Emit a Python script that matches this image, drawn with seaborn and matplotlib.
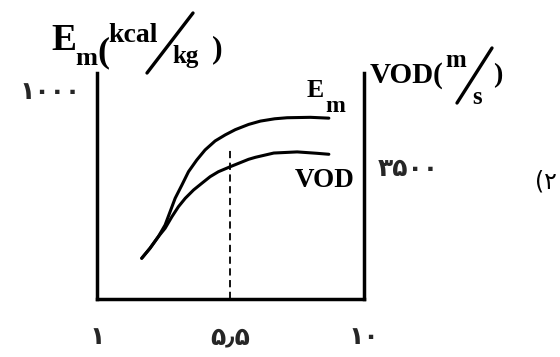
import pandas as pd
import seaborn as sns
import matplotlib.pyplot as plt
from matplotlib.lines import Line2D

# values
em_x = [2.51, 2.79, 3.07, 3.30, 3.47, 3.64, 3.87, 4.09, 4.37, 4.65, 4.99,
        5.33, 5.67, 6.12, 6.52, 7.00, 7.42, 8.21, 8.83]
em_y = [195, 243, 298, 354, 418, 482, 546, 609, 665, 713, 756,
        785, 810, 835, 851, 862, 867, 869, 865]
vod_x = [2.51, 2.79, 3.07, 3.30, 3.53, 3.75, 3.98, 4.26, 4.54, 4.82, 5.10,
         5.56, 6.12, 6.35, 6.97, 7.76, 8.43, 8.83]
vod_y = [1079, 1344, 1652, 1875, 2182, 2447, 2670, 2890, 3068, 3243, 3375,
         3527, 3704, 3757, 3870, 3900, 3863, 3837]
guide_x = 5.5
guide_top = 722

x_ticks = [1, 5.5, 10]
x_labels = ["۱", "۵٫۵", "۱۰"]
em_ticks = [1000]
em_labels = ["۱۰۰۰"]
vod_ticks = [3500]
vod_labels = ["۳۵۰۰"]

em_df = pd.DataFrame({"x": em_x, "Em": em_y})
vod_df = pd.DataFrame({"x": vod_x, "VOD": vod_y})

sns.set_theme(style="white")
plt.rcParams["font.family"] = ["DejaVu Sans"]

W, H = 560, 357
fig = plt.figure(figsize=(W / 100, H / 100), dpi=100)
fig.patch.set_facecolor("white")

def fx(x):
    return x / W

def fy(y):
    return 1 - y / H

ax = fig.add_axes([fx(97), fy(299), (363.5 - 97) / W, (299 - 73) / H])
ax2 = ax.twinx()

sns.lineplot(data=em_df, x="x", y="Em", ax=ax, color="black", lw=2.2, sort=True)
sns.lineplot(data=vod_df, x="x", y="VOD", ax=ax2, color="black", lw=2.2, sort=True)
ax.plot([guide_x, guide_x], [0, guide_top], color="black", lw=1.3, ls=(0, (4, 2.5)))

ax.set_xlim(1, 10)
ax.set_ylim(0, 1081)
ax2.set_ylim(0, 5992)
ax.set_xlabel("")
ax.set_ylabel("")
ax2.set_ylabel("")
ax.grid(False)
ax2.grid(False)

for a in (ax, ax2):
    a.set_facecolor("none")
    for s in a.spines.values():
        s.set_visible(False)
ax.spines["left"].set_visible(True)
ax.spines["bottom"].set_visible(True)
ax2.spines["right"].set_visible(True)
for s in (ax.spines["left"], ax.spines["bottom"], ax2.spines["right"]):
    s.set_linewidth(2.5)
    s.set_color("black")

tick_font = dict(family="DejaVu Sans", weight="bold", size=18)
ax.set_xticks(x_ticks)
ax.set_xticklabels(x_labels, **tick_font)
ax.set_yticks(em_ticks)
ax.set_yticklabels(em_labels, **tick_font)
ax2.set_yticks(vod_ticks)
ax2.set_yticklabels(vod_labels, **tick_font)
ax.tick_params(axis="x", length=0, pad=19)
ax.tick_params(axis="y", length=0, pad=12)
ax2.tick_params(axis="y", length=0, pad=10)

serif = dict(family="Liberation Serif", weight="bold", color="black", va="baseline", ha="left")

# left axis title: Em(kcal/kg)
fig.text(fx(51), fy(50), "E", size=27, **serif)
fig.text(fx(75), fy(65), "m", size=19, **serif)
fig.text(fx(97), fy(61), "(", size=26, **serif)
fig.text(fx(108), fy(42), "kcal", size=20, **serif)
fig.text(fx(172), fy(63), "kg", size=18, **serif)
fig.text(fx(212), fy(57), ")", size=23, **serif)
fig.add_artist(Line2D([fx(147), fx(193)], [fy(73), fy(13)], color="black", lw=2.4))

# right axis title: VOD(m/s)
fig.text(fx(370), fy(83), "VOD(", size=21, **serif)
fig.text(fx(445), fy(67), "m", size=18, **serif)
fig.text(fx(472), fy(104), "s", size=18, **serif)
fig.text(fx(493), fy(82), ")", size=20, **serif)
fig.add_artist(Line2D([fx(457), fx(492)], [fy(103), fy(48)], color="black", lw=2.4))

# curve labels
fig.text(fx(307), fy(97), "E", size=18.5, **serif)
fig.text(fx(325), fy(112), "m", size=17, **serif)
fig.text(fx(295), fy(187), "VOD", size=19.5, **serif)

# figure number, as far as it shows at the right edge
fig.text(fx(535), fy(188), "(۲", size=17, family="DejaVu Sans", color="black", va="baseline", ha="left")

fig.savefig("out.png", dpi=100, facecolor="white")
